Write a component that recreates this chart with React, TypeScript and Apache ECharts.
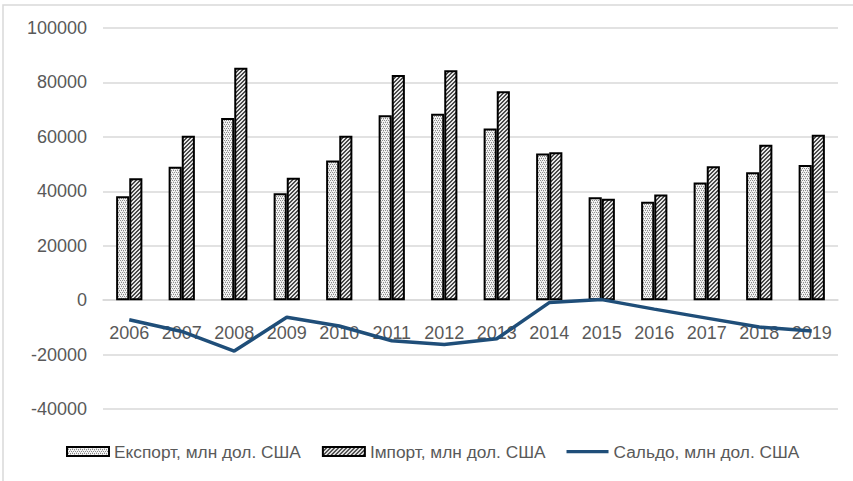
import React, { useEffect, useRef } from "react";
import * as echarts from "echarts";

const years = ["2006", "2007", "2008", "2009", "2010", "2011", "2012", "2013", "2014", "2015", "2016", "2017", "2018", "2019"];
const exportValues = [38200, 49000, 66900, 39300, 51300, 67900, 68500, 63100, 53900, 37800, 36200, 43200, 47000, 49700];
const importValues = [44800, 60400, 85400, 45000, 60400, 82700, 84500, 76800, 54300, 37300, 38800, 49200, 57100, 60800];
const saldoValues = [-7200, -11500, -18700, -6300, -9500, -14900, -16300, -14200, -900, 200, -3300, -6600, -9900, -11300];
const seriesNames = ["Експорт, млн дол. США", "Імпорт, млн дол. США", "Сальдо, млн дол. США"];
const yMin = -40000;
const yMax = 100000;
const yStep = 20000;

function makeDots(): HTMLCanvasElement {
  const c = document.createElement("canvas");
  c.width = 4;
  c.height = 4;
  const ctx = c.getContext("2d")!;
  ctx.fillStyle = "#f4f4f4";
  ctx.fillRect(0, 0, 4, 4);
  ctx.fillStyle = "#8c8c8c";
  ctx.fillRect(0, 0, 1, 1);
  ctx.fillRect(2, 0, 1, 1);
  ctx.fillRect(1, 2, 1, 1);
  ctx.fillRect(3, 2, 1, 1);
  ctx.fillStyle = "#c8c8c8";
  ctx.fillRect(1, 1, 1, 1);
  ctx.fillRect(3, 3, 1, 1);
  return c;
}

function makeHatch(): HTMLCanvasElement {
  const c = document.createElement("canvas");
  c.width = 4;
  c.height = 4;
  const ctx = c.getContext("2d")!;
  ctx.fillStyle = "#e6e6e6";
  ctx.fillRect(0, 0, 4, 4);
  ctx.fillStyle = "#4a4a4a";
  for (let i = 0; i < 4; i++) {
    ctx.fillRect(3 - i, i, 1, 1);
    ctx.fillRect((4 - i) % 4, i, 1, 1);
  }
  return c;
}

export default function App() {
  const ref = useRef<HTMLDivElement>(null);
  useEffect(() => {
    if (!ref.current) return;
    const chart = echarts.init(ref.current, undefined, { renderer: "svg" });
    const dots = { image: makeDots(), repeat: "repeat", imageWidth: 4, imageHeight: 4 };
    const hatch = { image: makeHatch(), repeat: "repeat", imageWidth: 4, imageHeight: 4 };
    const font = "'Liberation Sans', Arial, sans-serif";
    const gridTop = 28;
    const gridBottom = 72;
    const gridHeight = 481 - gridTop - gridBottom;
    const zeroOffset = -((0 - yMin) / (yMax - yMin)) * gridHeight;
    chart.setOption({
      animation: false,
      backgroundColor: "#ffffff",
      textStyle: { fontFamily: font },
      graphic: [
        {
          type: "rect",
          shape: { x: 3, y: 5, width: 870, height: 500 },
          style: { fill: "none", stroke: "#d9d9d9", lineWidth: 1.5 },
          silent: true,
        },
      ],
      grid: { left: 103, right: 15, top: gridTop, bottom: gridBottom, containLabel: false },
      legend: {
        bottom: 16,
        left: 61,
        itemGap: 21,
        itemWidth: 42,
        itemHeight: 9,
        textStyle: { fontFamily: font, fontSize: 17.3, color: "#595959" },
        data: [
          { name: seriesNames[0], icon: "rect" },
          { name: seriesNames[1], icon: "rect" },
          {
            name: seriesNames[2],
            icon: "path://M0,0h0.01v0.01h-0.01zM0,3h42v3.2h-42zM41.99,8.99h0.01v0.01h-0.01z",
            itemStyle: { color: "#1f4e79", borderWidth: 0 },
          },
        ],
      },
      xAxis: {
        type: "category",
        data: years,
        offset: zeroOffset,
        axisLine: { show: true, onZero: false, lineStyle: { color: "#d9d9d9", width: 1.5 } },
        axisTick: { show: false },
        axisLabel: { fontFamily: font, fontSize: 18, color: "#595959", margin: 24 },
      },
      yAxis: {
        type: "value",
        min: yMin,
        max: yMax,
        interval: yStep,
        axisLine: { show: false },
        axisTick: { show: false },
        splitLine: { lineStyle: { color: "#d9d9d9", width: 1.5 } },
        axisLabel: {
          fontFamily: font,
          fontSize: 18,
          color: "#595959",
          margin: 16,
          formatter: (v: number) => String(v),
        },
      },
      series: [
        {
          name: seriesNames[0],
          type: "bar",
          data: exportValues,
          barGap: "0%",
          barCategoryGap: "50%",
          itemStyle: { color: dots, borderColor: "#000000", borderWidth: 2 },
        },
        {
          name: seriesNames[1],
          type: "bar",
          data: importValues,
          barGap: "0%",
          barCategoryGap: "50%",
          itemStyle: { color: hatch, borderColor: "#000000", borderWidth: 2 },
        },
        {
          name: seriesNames[2],
          type: "line",
          data: saldoValues,
          symbol: "none",
          z: 5,
          lineStyle: { color: "#1f4e79", width: 3.5 },
          itemStyle: { color: "#1f4e79" },
        },
      ],
    });
    return () => chart.dispose();
  }, []);
  return (
    <div
      ref={ref}
      style={{ position: "fixed", left: 0, top: 0, width: 853, height: 481 }}
    />
  );
}
